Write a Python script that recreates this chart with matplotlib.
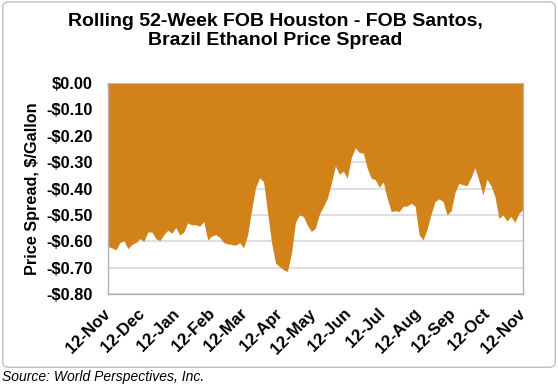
import matplotlib
matplotlib.use("Agg")
import matplotlib.pyplot as plt
import matplotlib.dates as mdates
from matplotlib.patches import FancyBboxPatch
import numpy as np
import pandas as pd

plt.rcParams['font.family'] = ['Liberation Sans', 'DejaVu Sans']

title = "Rolling 52-Week FOB Houston - FOB Santos,\nBrazil Ethanol Price Spread"
ylabel = "Price Spread, $/Gallon"
source = "Source: World Perspectives, Inc."

start_date = "2012-11-12"
end_date = "2013-11-12"
spread = [
    -0.620, -0.625, -0.632, -0.605, -0.598, -0.628, -0.612, -0.605, -0.590, -0.600,
    -0.565, -0.565, -0.590, -0.598, -0.575, -0.558, -0.570, -0.548, -0.576, -0.565,
    -0.530, -0.538, -0.537, -0.543, -0.525, -0.595, -0.580, -0.575, -0.585, -0.605,
    -0.610, -0.612, -0.615, -0.605, -0.625, -0.576, -0.481, -0.397, -0.359, -0.374,
    -0.490, -0.604, -0.683, -0.696, -0.708, -0.714, -0.645, -0.528, -0.500, -0.506,
    -0.540, -0.563, -0.550, -0.497, -0.468, -0.437, -0.380, -0.314, -0.346, -0.334,
    -0.361, -0.283, -0.245, -0.263, -0.266, -0.323, -0.361, -0.366, -0.395, -0.375,
    -0.437, -0.487, -0.484, -0.487, -0.467, -0.466, -0.456, -0.467, -0.575, -0.595,
    -0.554, -0.497, -0.449, -0.439, -0.449, -0.500, -0.485, -0.414, -0.380, -0.386,
    -0.389, -0.359, -0.321, -0.371, -0.424, -0.364, -0.389, -0.430, -0.513, -0.500,
    -0.523, -0.506, -0.528, -0.494, -0.481,
]
yticks = [0.0, -0.1, -0.2, -0.3, -0.4, -0.5, -0.6, -0.7, -0.8]
ytick_labels = ["$0.00", "-$0.10", "-$0.20", "-$0.30", "-$0.40", "-$0.50", "-$0.60", "-$0.70", "-$0.80"]

dates = pd.date_range(start_date, end_date, periods=len(spread))
month_ticks = pd.date_range(start_date, end_date, freq=pd.DateOffset(months=1))

fig = plt.figure(figsize=(5.58, 3.92), dpi=100)
ax = fig.add_axes([0.1935, 0.25, 0.937 - 0.1935, 0.788 - 0.25])

# outer rounded frame
frame = FancyBboxPatch((0.005, 0.063), 0.99, 0.932, boxstyle="round,pad=0,rounding_size=0.012",
                       transform=fig.transFigure, facecolor='white', edgecolor='#bfbfbf',
                       linewidth=1.0, zorder=-10)
fig.patches.append(frame)

ax.fill_between(dates, spread, 0, color='#D1831A', linewidth=0, zorder=2)

ax.set_ylim(-0.8, 0.0)
ax.set_xlim(pd.Timestamp(start_date), pd.Timestamp(end_date))
ax.set_yticks(yticks)
ax.set_yticklabels(ytick_labels, fontsize=11.8, fontweight='bold')
ax.yaxis.grid(True, color='#d9d9d9', linewidth=1.2, zorder=1)
ax.set_axisbelow(True)
ax.tick_params(axis='y', length=0, pad=10.8)

ax.set_xticks(month_ticks)
ax.xaxis.set_major_formatter(mdates.DateFormatter('%d-%b'))
ax.tick_params(axis='x', top=True, bottom=False, labeltop=False, labelbottom=True,
               direction='in', color='#d9d9d9', length=4, width=1.2, pad=12.5)
for lbl in ax.get_xticklabels():
    lbl.set_rotation(45)
    lbl.set_ha('right')
    lbl.set_va('center')
    lbl.set_rotation_mode('anchor')
    lbl.set_fontsize(12)
    lbl.set_fontweight('bold')

for s in ax.spines.values():
    s.set_color('#b3b3b3')
    s.set_linewidth(1.0)
ax.spines['top'].set_visible(False)

fig.text(33 / 558, 1 - 188.5 / 392, ylabel, rotation=90, ha='center', va='center',
         fontsize=11.7, fontweight='bold')

fig.text(0.493, 0.967, title, ha='center', va='top', fontsize=14, fontweight='bold', linespacing=1.15)
fig.text(0.004, 0.038, source, ha='left', va='center', fontsize=10, style='italic')

fig.savefig("out.png", dpi=100, facecolor='white')
